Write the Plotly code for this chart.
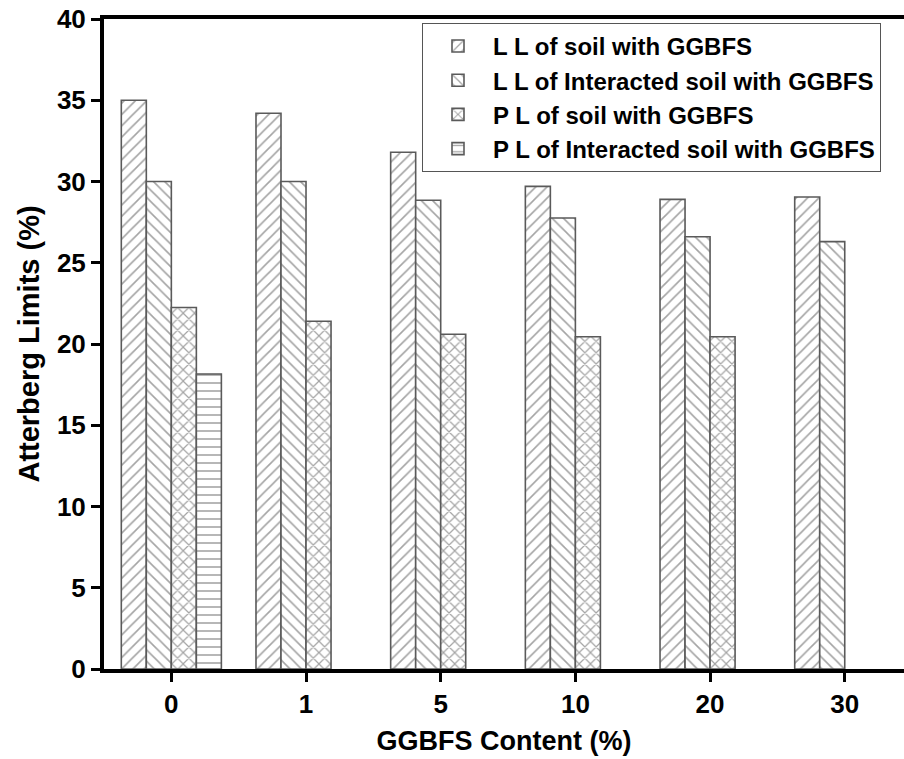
import plotly.graph_objects as go

# GGBFS content categories (%)
categories = ["0", "1", "5", "10", "20", "30"]

# Atterberg limits (%)
ll_soil = [35.0, 34.2, 31.8, 29.7, 28.9, 29.05]
ll_interacted = [30.0, 30.0, 28.85, 27.75, 26.6, 26.3]
pl_soil = [22.25, 21.4, 20.6, 20.45, 20.45, None]
pl_interacted = [18.15, None, None, None, None, None]

series_names = [
    "L L of soil with GGBFS",
    "L L of Interacted soil with GGBFS",
    "P L of soil with GGBFS",
    "P L of Interacted soil with GGBFS",
]
series_values = [ll_soil, ll_interacted, pl_soil, pl_interacted]
hatches = ["/", "\\", "x", "-"]
hatch_solidity = [0.2, 0.2, 0.28, 0.2]

FONT = "Liberation Sans, Arial, sans-serif"

fig = go.Figure()
for name, vals, hatch, sol in zip(series_names, series_values, hatches, hatch_solidity):
    fig.add_trace(go.Bar(
        x=categories,
        y=vals,
        name=name,
        marker=dict(
            color="white",
            line=dict(color="#5a5a5a", width=1.6),
            pattern=dict(shape=hatch, fgcolor="#4a4a4a", bgcolor="white",
                         size=8, solidity=sol),
        ),
    ))

fig.update_layout(
    width=904,
    height=759,
    margin=dict(l=104, r=0, t=19, b=90),
    paper_bgcolor="white",
    plot_bgcolor="white",
    barmode="group",
    bargap=0.257,
    bargroupgap=0,
    font=dict(family=FONT, color="black"),
    legend=dict(
        x=0.3975, y=0.994, xanchor="left", yanchor="top",
        bgcolor="white", bordercolor="#555555", borderwidth=1,
        font=dict(family=FONT, size=24, color="black", weight="bold"),
        itemwidth=60,
        tracegroupgap=0,
    ),
    xaxis=dict(
        type="category",
        range=[-0.5, 5.44],
        showline=True, linecolor="black", linewidth=4, mirror=True,
        ticks="outside", ticklen=9, tickwidth=3, tickcolor="black",
        tickfont=dict(family=FONT, size=26, weight="bold"),
        showgrid=False, zeroline=False,
        title=dict(text="GGBFS Content (%)", standoff=14,
                   font=dict(family=FONT, size=27, weight="bold")),
    ),
    yaxis=dict(
        range=[0, 40],
        dtick=5,
        showline=True, linecolor="black", linewidth=4,
        ticks="outside", ticklen=9, tickwidth=3, tickcolor="black",
        tickfont=dict(family=FONT, size=26, weight="bold"),
        showgrid=False, zeroline=False,
        title=dict(text="Atterberg Limits (%)", standoff=10,
                   font=dict(family=FONT, size=29, weight="bold")),
    ),
)

fig.write_html("out.html")
